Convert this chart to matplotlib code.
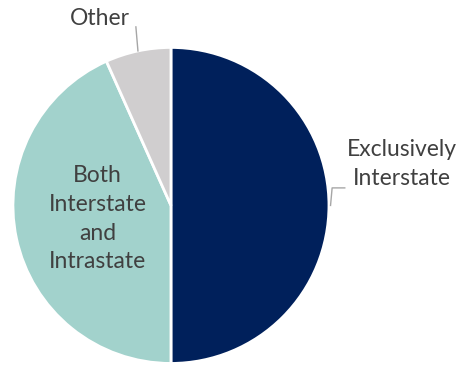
import numpy as np
import matplotlib
matplotlib.use("Agg")
import matplotlib.pyplot as plt

plt.rcParams['font.family'] = ['Lato', 'DejaVu Sans']

labels = ["Exclusively\nInterstate", "Both\nInterstate\nand\nIntrastate", "Other"]
shares = [50.0, 43.3, 6.7]
colors = ["#00205B", "#A2D2CC", "#D0CECF"]
text_color = "#404040"
line_color = "#A6A6A6"

fig = plt.figure(figsize=(4.62, 3.66), dpi=100)
ax = fig.add_axes([0, 0, 1, 1])

wedges, _ = ax.pie(shares, colors=colors, startangle=90, counterclock=False,
                   radius=1.0, wedgeprops=dict(edgecolor="white", linewidth=2))

ax.set_xlim(-1.082, 1.842)
ax.set_ylim(-1.016, 1.300)
ax.set_aspect("equal")
ax.axis("off")

def mid_point(w, r=1.0):
    ang = np.deg2rad((w.theta1 + w.theta2) / 2)
    return r * np.cos(ang), r * np.sin(ang)

# Exclusively Interstate: label outside, elbow leader
x0, y0 = mid_point(wedges[0], 1.01)
ax.plot([x0, x0 + 0.01, 1.10], [y0, 0.111, 0.111], color=line_color, lw=1)
ax.text(1.462, 0.262, labels[0], ha="center", va="center", fontsize=16.5,
        color=text_color, linespacing=1.45)

# Both Interstate and Intrastate: label inside the slice
ax.text(-0.465, -0.085, labels[1], ha="center", va="center", fontsize=16.5,
        color=text_color, linespacing=1.45)

# Other: label above, straight leader
x2, y2 = mid_point(wedges[2], 1.0)
ax.plot([x2, -0.222], [y2, 1.13], color=line_color, lw=1)
ax.text(-0.449, 1.18, labels[2], ha="center", va="center", fontsize=16.5,
        color=text_color)

fig.savefig("out.png", dpi=100)
